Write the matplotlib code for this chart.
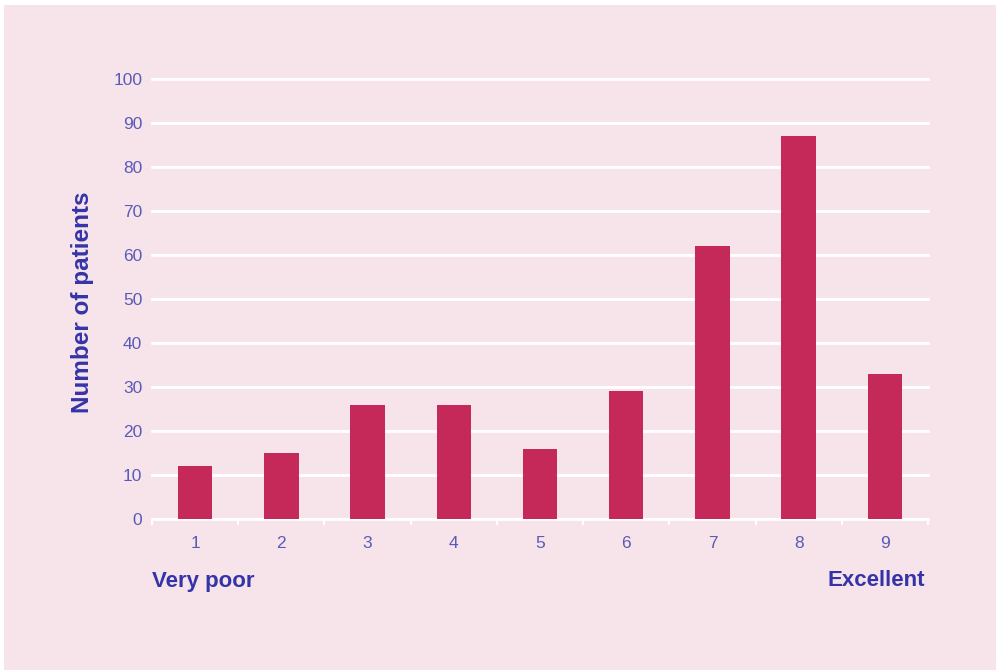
import matplotlib
matplotlib.use("Agg")
import matplotlib.pyplot as plt
from matplotlib.patches import Rectangle

categories = [1, 2, 3, 4, 5, 6, 7, 8, 9]
patients = [12, 15, 26, 26, 16, 29, 62, 87, 33]
yticks = [0, 10, 20, 30, 40, 50, 60, 70, 80, 90, 100]

PINK = "#f7e4ea"
BAR = "#c4295a"
BLUE = "#3434a8"
TICKBLUE = "#5a5ab8"

plt.rcParams['font.family'] = ['Liberation Sans', 'DejaVu Sans']

fig = plt.figure(figsize=(9.96, 6.70), dpi=100, facecolor="white")
fig.patches.append(Rectangle((4/996, 0), 1, 1 - 5/670, transform=fig.transFigure,
                             facecolor=PINK, edgecolor="none", zorder=-10))

ax = fig.add_axes([152/996, 1 - 519/670, (928-152)/996, (519-79)/670])
ax.set_facecolor("none")
ax.bar(categories, patients, width=0.4, color=BAR, zorder=3)
ax.set_xlim(0.5, 9.5)
ax.set_ylim(0, 100)
ax.set_yticks(yticks)
ax.set_yticklabels([str(v) for v in yticks], color=TICKBLUE, fontsize=12.5)
for y in yticks:
    ax.axhline(y, color="white", lw=2, zorder=1, clip_on=False)
ax.tick_params(axis='y', length=0, pad=7)
ax.set_xticks([c - 0.5 for c in categories] + [9.5])
ax.set_xticklabels([])
ax.tick_params(axis='x', length=4, width=1.5, color="white", direction='out')
ax.set_xticks(categories, minor=True)
ax.set_xticklabels([str(c) for c in categories], minor=True, color=TICKBLUE, fontsize=12.5)
ax.tick_params(axis='x', which='minor', length=0, pad=12)
for s in ax.spines.values():
    s.set_visible(False)

fig.text(82/996, 1 - 302/670, "Number of patients", color=BLUE, fontsize=17.5,
         fontweight='bold', rotation=90, ha='center', va='center')
fig.text(152/996, 1 - 581/670, "Very poor", color=BLUE, fontsize=16, fontweight='bold',
         ha='left', va='center')
fig.text(925/996, 1 - 581/670, "Excellent", color=BLUE, fontsize=16, fontweight='bold',
         ha='right', va='center')

fig.savefig("out.png", dpi=100, facecolor=fig.get_facecolor())
